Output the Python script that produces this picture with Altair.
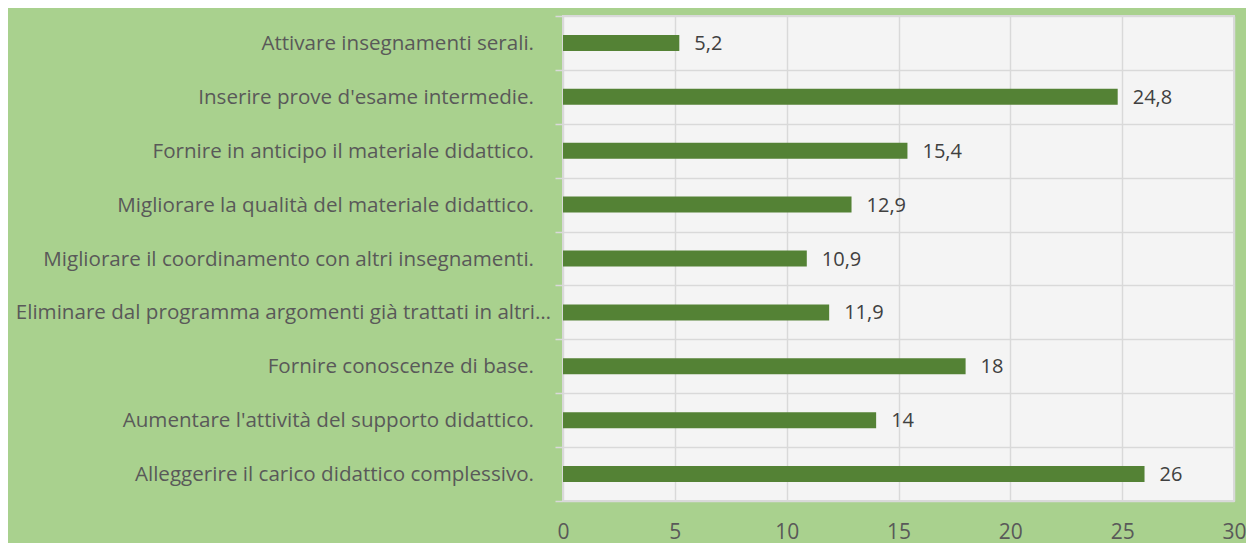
import altair as alt
import pandas as pd

categories = [
    "Attivare insegnamenti serali.",
    "Inserire prove d'esame intermedie.",
    "Fornire in anticipo il materiale didattico.",
    "Migliorare la qualità del materiale didattico.",
    "Migliorare il coordinamento con altri insegnamenti.",
    "Eliminare dal programma argomenti già trattati in altri…",
    "Fornire conoscenze di base.",
    "Aumentare l'attività del supporto didattico.",
    "Alleggerire il carico didattico complessivo.",
]
values = [5.2, 24.8, 15.4, 12.9, 10.9, 11.9, 18, 14, 26]
x_ticks = [0, 5, 10, 15, 20, 25, 30]

df = pd.DataFrame({"cat": categories, "v": values})

FONT = "Open Sans"
TXT = "#595959"
CAT_SIZE = 20.6

base = alt.Chart(df).transform_calculate(
    label="replace(toString(datum.v), '.', ',')"
)

y_enc = alt.Y(
    "cat:N",
    sort=categories,
    title=None,
    scale=alt.Scale(paddingInner=0, paddingOuter=0),
    axis=alt.Axis(
        domain=False,
        ticks=True,
        tickSize=8,
        tickColor="#d9d9d9",
        tickWidth=1.5,
        tickBand="extent",
        grid=True,
        gridColor="#d9d9d9",
        gridWidth=1.5,
        labels=False,
    ),
)

x_enc = alt.X(
    "v:Q",
    title=None,
    scale=alt.Scale(domain=[0, 30], nice=False),
    axis=alt.Axis(
        values=x_ticks,
        domain=False,
        ticks=False,
        grid=True,
        gridColor="#d9d9d9",
        gridWidth=1.5,
        labelFont=FONT,
        labelFontSize=21,
        labelColor=TXT,
        labelPadding=20,
        labelFlush=False,
    ),
)

bars = base.mark_bar(color="#548235", size=16).encode(x=x_enc, y=y_enc)

values_text = base.mark_text(
    align="left", baseline="middle", dx=15, dy=1,
    font=FONT, fontSize=20, color="#404040",
).encode(x="v:Q", y=alt.Y("cat:N", sort=categories), text="label:N")

is_trunc = "indexof(datum.cat, '…') >= 0"

cat_labels_full = base.transform_filter(f"!({is_trunc})").mark_text(
    align="right", baseline="middle", dx=-29, dy=1,
    font=FONT, fontSize=CAT_SIZE, color=TXT,
).encode(x=alt.value(0), y=alt.Y("cat:N", sort=categories), text="cat:N")

cat_labels_trunc = base.transform_filter(is_trunc).mark_text(
    align="right", baseline="middle", dx=-12, dy=1,
    font=FONT, fontSize=CAT_SIZE, color=TXT,
).encode(x=alt.value(0), y=alt.Y("cat:N", sort=categories), text="cat:N")

chart = (
    alt.layer(bars, values_text, cat_labels_full, cat_labels_trunc)
    .properties(
        width=671,
        height=485,
        background="#a9d18e",
        padding={"left": 555, "top": 8, "right": 12, "bottom": 42},
        autosize=alt.AutoSizeParams(type="none"),
    )
    .configure_view(fill="#f4f4f4", stroke="#d9d9d9", strokeWidth=2)
)

chart.save("out.html", embed_options={"renderer": "svg", "actions": False})
